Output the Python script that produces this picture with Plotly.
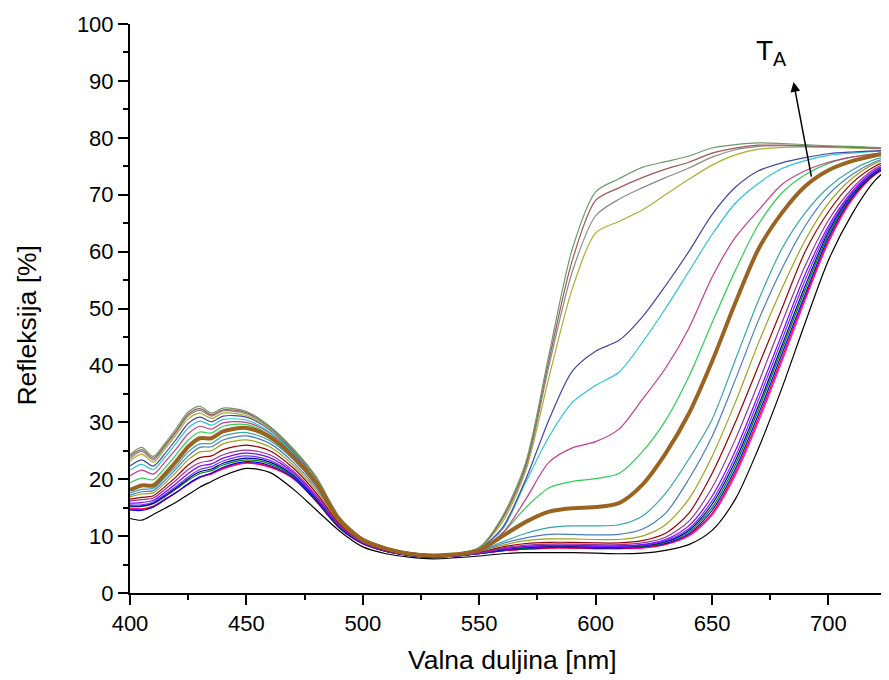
import plotly.graph_objects as go

# Wavelength grid [nm]
wavelength = [400, 405, 410, 415, 420, 425, 430, 435, 440, 450, 460, 470, 480, 490, 500,
              510, 520, 530, 540, 550, 560, 570, 580, 590, 600, 610, 620, 630, 640, 650,
              660, 670, 680, 690, 700, 710, 720, 730]

# Reflectance [%] of each sample
r_graygreen = [24.3, 25.6, 24.0, 26.3, 29.0, 31.8, 32.8, 31.6, 32.5,
               31.9, 29.3, 25.4, 20.4, 13.3, 9.6, 8.0, 7.1, 6.7, 6.9,
               8.0, 13.5, 23.0, 42.0, 60.5, 70.5, 72.8, 74.8, 75.8, 76.8, 78.2, 78.8, 79.1, 79.0, 78.8, 78.6, 78.5, 78.3, 78.2]
r_maroon = [24.0, 25.2, 23.7, 26.0, 28.6, 31.4, 32.4, 31.3, 32.2,
            31.7, 29.2, 25.3, 20.3, 13.3, 9.6, 8.0, 7.1, 6.7, 6.9,
            8.0, 13.2, 22.5, 41.0, 58.5, 69.0, 71.2, 73.0, 74.5, 75.7, 77.3, 78.2, 78.7, 78.7, 78.6, 78.5, 78.4, 78.2, 78.0]
r_gray = [23.6, 24.9, 23.4, 25.7, 28.3, 31.1, 32.1, 31.1, 32.0,
          31.5, 29.0, 25.2, 20.2, 13.2, 9.6, 8.0, 7.1, 6.7, 6.9,
          7.9, 13.0, 22.0, 40.0, 56.5, 66.3, 69.2, 71.2, 73.0, 74.7, 76.6, 77.9, 78.5, 78.6, 78.5, 78.4, 78.3, 78.2, 78.0]
r_oliveyellow = [23.2, 24.4, 23.0, 25.3, 27.9, 30.6, 31.6, 30.7, 31.6,
                 31.2, 28.8, 25.1, 20.1, 13.2, 9.5, 7.9, 7.1, 6.7, 6.9,
                 7.9, 12.5, 21.5, 38.0, 53.5, 63.3, 65.3, 67.3, 70.0, 72.7, 75.2, 77.0, 78.0, 78.3, 78.4, 78.3, 78.2, 78.1, 78.0]
r_slateblue = [22.3, 23.4, 22.3, 24.5, 27.1, 29.8, 30.9, 30.1, 31.1,
               30.9, 28.7, 24.9, 20.0, 13.1, 9.5, 7.9, 7.0, 6.7, 6.9,
               7.8, 11.5, 20.0, 30.5, 39.0, 42.5, 44.4, 48.5, 54.0, 60.0, 66.5, 71.3, 74.2, 75.6, 76.5, 77.2, 77.5, 77.7, 77.8]
r_cyan = [21.6, 22.6, 21.7, 23.9, 26.4, 29.0, 30.2, 29.5, 30.5,
          30.4, 28.3, 24.7, 19.8, 13.1, 9.4, 7.9, 7.0, 6.6, 6.8,
          7.8, 11.2, 19.5, 27.5, 33.5, 36.5, 38.8, 44.0, 50.0, 56.5, 63.0, 68.5, 72.0, 74.6, 76.0, 76.9, 77.3, 77.6, 77.8]
r_pink = [20.6, 21.6, 20.9, 23.0, 25.4, 28.0, 29.3, 28.8, 29.9,
          30.0, 28.1, 24.5, 19.7, 13.0, 9.4, 7.9, 7.0, 6.6, 6.8,
          7.7, 10.5, 16.5, 23.0, 25.5, 26.6, 28.8, 34.0, 39.5, 46.5, 55.5, 62.5, 67.3, 71.8, 74.2, 75.7, 76.6, 77.2, 77.5]
r_green = [19.4, 20.2, 19.9, 22.0, 24.4, 26.9, 28.3, 28.1, 29.3,
           29.6, 27.8, 24.3, 19.5, 12.9, 9.4, 7.8, 7.0, 6.6, 6.8,
           7.6, 10.5, 15.0, 18.5, 19.6, 20.1, 21.0, 24.8, 30.3, 38.0, 47.5, 56.7, 64.8, 70.3, 73.5, 75.5, 76.6, 77.2, 77.5]
r_TA = [18.1, 18.9, 18.9, 20.9, 23.2, 25.7, 27.2, 27.2, 28.4,
        29.0, 27.4, 24.0, 19.3, 12.8, 9.3, 7.8, 6.9, 6.6, 6.8,
        7.5, 10.0, 12.5, 14.3, 14.9, 15.1, 15.8, 19.0, 24.5, 31.5, 40.7, 51.0, 60.5, 66.8, 71.5, 74.3, 75.9, 76.9, 77.6]
r_teal = [17.6, 18.2, 18.4, 20.3, 22.4, 24.8, 26.2, 26.3, 27.6,
          28.2, 26.8, 23.5, 18.9, 12.6, 9.2, 7.7, 6.9, 6.5, 6.7,
          7.4, 9.0, 10.5, 11.5, 11.8, 11.8, 12.0, 13.5, 17.5, 23.5, 30.5, 41.0, 51.5, 60.5, 66.8, 71.3, 74.3, 76.2, 77.2]
r_steelblue = [17.2, 17.8, 18.0, 19.8, 21.9, 24.1, 25.6, 25.7, 26.9,
               27.6, 26.3, 23.0, 18.5, 12.5, 9.1, 7.7, 6.9, 6.5, 6.7,
               7.3, 8.7, 9.7, 10.3, 10.3, 10.2, 10.3, 11.2, 14.0, 20.0, 27.5, 37.5, 48.0, 57.0, 64.5, 70.0, 73.5, 75.8, 77.0]
r_olive = [16.9, 17.4, 17.6, 19.3, 21.3, 23.4, 24.8, 25.0, 26.2,
           26.9, 25.7, 22.5, 18.1, 12.4, 9.1, 7.6, 6.8, 6.5, 6.7,
           7.3, 8.4, 9.2, 9.5, 9.5, 9.4, 9.4, 10.0, 12.0, 16.5, 24.0, 33.5, 44.0, 53.5, 62.0, 68.5, 72.8, 75.5, 76.8]
r_darkred = [16.5, 16.8, 17.1, 18.7, 20.5, 22.5, 23.8, 24.1, 25.2,
             26.0, 25.0, 22.0, 17.6, 12.2, 9.0, 7.5, 6.8, 6.4, 6.6,
             7.2, 8.1, 8.7, 8.9, 8.9, 8.8, 8.8, 9.2, 10.5, 14.0, 21.0, 30.0, 40.0, 50.0, 60.0, 67.0, 72.0, 75.0, 76.6]
r_purple = [16.2, 16.4, 16.7, 18.2, 19.9, 21.7, 22.9, 23.3, 24.3,
            25.1, 24.3, 21.5, 17.2, 12.0, 8.9, 7.5, 6.7, 6.4, 6.6,
            7.1, 7.9, 8.4, 8.6, 8.6, 8.5, 8.5, 8.8, 9.8, 12.6, 18.5, 27.0, 37.0, 47.5, 57.5, 65.5, 71.0, 74.6, 76.4]
r_violet = [15.8, 15.9, 16.3, 17.7, 19.3, 21.0, 22.3, 22.7, 23.7,
            24.6, 23.8, 21.2, 16.9, 11.8, 8.8, 7.4, 6.7, 6.3, 6.5,
            7.1, 7.8, 8.2, 8.4, 8.4, 8.3, 8.3, 8.5, 9.4, 11.8, 17.0, 25.0, 35.0, 45.5, 56.0, 64.5, 70.5, 74.3, 76.2]
r_blueviolet = [15.5, 15.5, 16.0, 17.3, 18.8, 20.4, 21.7, 22.2, 23.2,
                24.1, 23.3, 20.9, 16.7, 11.7, 8.8, 7.4, 6.7, 6.3, 6.5,
                7.0, 7.7, 8.1, 8.3, 8.3, 8.2, 8.2, 8.4, 9.2, 11.3, 16.2, 24.0, 34.0, 44.5, 55.0, 64.0, 70.2, 74.1, 76.1]
r_navy = [15.3, 15.3, 15.8, 17.1, 18.5, 20.1, 21.3, 21.8, 22.8,
          23.7, 23.0, 20.7, 16.5, 11.6, 8.7, 7.4, 6.6, 6.3, 6.5,
          7.0, 7.6, 8.0, 8.2, 8.2, 8.1, 8.1, 8.3, 9.0, 11.0, 15.6, 23.2, 33.0, 43.5, 54.0, 63.5, 70.0, 74.0, 76.0]
r_darkgreen = [15.2, 15.2, 15.7, 16.9, 18.3, 19.8, 21.0, 21.5, 22.5,
               23.4, 22.7, 20.5, 16.4, 11.5, 8.7, 7.3, 6.6, 6.3, 6.5,
               7.0, 7.6, 7.9, 8.1, 8.1, 8.0, 8.0, 8.2, 8.9, 10.7, 15.0, 22.5, 32.3, 42.8, 53.3, 63.0, 69.8, 73.9, 75.9]
r_blue = [14.6, 14.5, 15.1, 16.4, 17.7, 19.2, 20.4, 21.1, 22.1,
          23.1, 22.4, 20.3, 16.2, 11.4, 8.7, 7.3, 6.6, 6.3, 6.5,
          6.9, 7.5, 7.8, 8.0, 8.0, 7.9, 7.9, 8.1, 8.7, 10.4, 14.5, 21.8, 31.5, 42.0, 52.5, 62.5, 69.5, 73.7, 75.8]
r_red = [14.8, 14.7, 15.2, 16.4, 17.7, 19.1, 20.3, 21.0, 21.9,
         22.9, 22.2, 20.2, 16.1, 11.4, 8.7, 7.3, 6.6, 6.3, 6.5,
         6.9, 7.4, 7.7, 7.9, 7.9, 7.8, 7.8, 8.0, 8.6, 10.2, 14.0, 21.2, 30.8, 41.3, 52.0, 62.0, 69.3, 73.6, 75.7]
r_magenta = [14.9, 14.8, 15.3, 16.5, 17.7, 19.1, 20.3, 20.9, 21.8,
             22.8, 22.1, 20.1, 16.1, 11.4, 8.6, 7.3, 6.6, 6.3, 6.5,
             6.9, 7.4, 7.7, 7.9, 7.9, 7.8, 7.8, 7.9, 8.5, 10.0, 13.7, 20.7, 30.2, 40.7, 51.5, 61.6, 69.0, 73.5, 75.6]
r_black = [13.1, 12.8, 13.8, 14.9, 16.0, 17.3, 18.6, 19.6, 20.6,
           21.9, 21.2, 18.3, 14.6, 10.9, 8.1, 6.9, 6.3, 6.0, 6.2,
           6.5, 6.9, 7.1, 7.1, 7.1, 7.0, 6.9, 7.0, 7.5, 8.5, 11.0, 16.5, 25.5, 36.0, 47.5, 58.5, 66.5, 72.5, 76.0]

x_ticks = [400, 450, 500, 550, 600, 650, 700]
x_minor = [425, 475, 525, 575, 625, 675, 725]
y_ticks = [0, 10, 20, 30, 40, 50, 60, 70, 80, 90, 100]
y_minor = [5, 15, 25, 35, 45, 55, 65, 75, 85, 95]

series = [
    (r_black, "#000000", 1.2),
    (r_magenta, "#FF00FF", 1.2),
    (r_red, "#FF0000", 1.2),
    (r_blue, "#0000FF", 1.2),
    (r_darkgreen, "#008000", 1.2),
    (r_navy, "#000090", 1.2),
    (r_blueviolet, "#6633FF", 1.2),
    (r_violet, "#8000FF", 1.2),
    (r_purple, "#993399", 1.2),
    (r_darkred, "#990000", 1.2),
    (r_olive, "#A0A020", 1.2),
    (r_steelblue, "#4A7CC4", 1.2),
    (r_teal, "#36A6A6", 1.2),
    (r_green, "#30CC55", 1.2),
    (r_pink, "#C83C8A", 1.2),
    (r_cyan, "#2CC4D4", 1.2),
    (r_slateblue, "#4444A4", 1.2),
    (r_oliveyellow, "#A8B030", 1.2),
    (r_gray, "#8A8A8A", 1.2),
    (r_maroon, "#A05858", 1.2),
    (r_graygreen, "#6B9B6B", 1.2),
    (r_TA, "#9A6420", 4.0),
]

fig = go.Figure()
for vals, color, width in series:
    fig.add_trace(go.Scatter(x=wavelength, y=vals, mode="lines",
                             line=dict(color=color, width=width, shape="spline", smoothing=0.8),
                             showlegend=False, hoverinfo="skip"))

font_family = "Liberation Sans, Arial, sans-serif"
axis_common = dict(showline=True, linecolor="black", linewidth=2, ticks="outside",
                   ticklen=10, tickwidth=2, tickcolor="black", showgrid=False, zeroline=False,
                   automargin=False,
                   tickfont=dict(family=font_family, size=22, color="black"))

# The page body has an 8 px margin, so the figure is sized to fit the 889x680 window.
fig.update_layout(
    width=881, height=672,
    margin=dict(l=122, r=0, t=16, b=87, autoexpand=False),
    plot_bgcolor="white", paper_bgcolor="white",
    xaxis=dict(range=[400, 726], tickmode="array", tickvals=x_ticks,
               minor=dict(tickvals=x_minor, ticks="outside", ticklen=5,
                          tickwidth=2, tickcolor="black"),
               **axis_common),
    yaxis=dict(range=[0, 100], tickmode="array", tickvals=y_ticks,
               minor=dict(tickvals=y_minor, ticks="outside", ticklen=5,
                          tickwidth=2, tickcolor="black"),
               **axis_common),
    annotations=[
        dict(text="Valna duljina [nm]", xref="paper", yref="paper", x=0.5046, y=-0.1178,
             showarrow=False, font=dict(family=font_family, size=26.5, color="black"),
             xanchor="center", yanchor="middle"),
        dict(text="Refleksija [%]", xref="paper", yref="paper", x=-0.1357, y=0.47,
             showarrow=False, textangle=-90, font=dict(family=font_family, size=26.5, color="black"),
             xanchor="center", yanchor="middle"),
        dict(text="T<sub>A</sub>", xref="x", yref="y", x=675.5, y=95.0, showarrow=False,
             font=dict(family=font_family, size=28, color="black"), xanchor="center", yanchor="middle"),
        dict(text="", xref="x", yref="y", x=685.0, y=89.8, axref="x", ayref="y", ax=692.8, ay=72.9,
             showarrow=True, arrowhead=2, arrowsize=1.3, arrowwidth=1.5, arrowcolor="black", standoff=0),
    ],
)

fig.write_html("out.html")
